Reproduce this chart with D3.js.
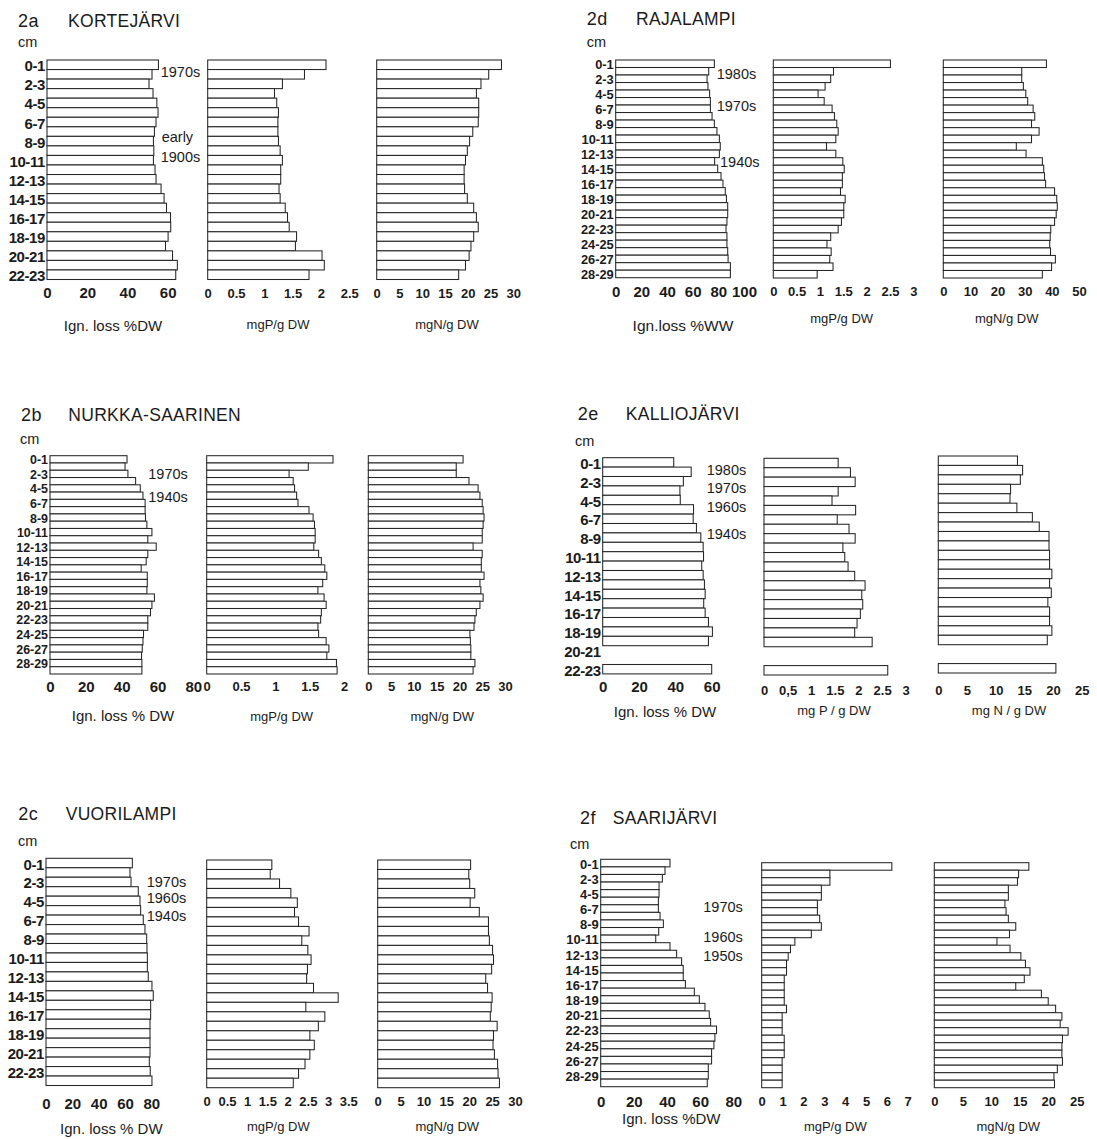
<!DOCTYPE html>
<html>
<head>
<meta charset="utf-8">
<script src="https://cdn.jsdelivr.net/npm/d3@7"></script>
<style>
  html, body { margin: 0; padding: 0; background: #fff; }
  svg { display: block; }
</style>
</head>
<body>
<svg id="fig" width="1097" height="1139"></svg>
<script>
// 1-cm sediment slices, surface downwards
const depthSlices = ["0-1","1-2","2-3","3-4","4-5","5-6","6-7","7-8","8-9","9-10",
  "10-11","11-12","12-13","13-14","14-15","15-16","16-17","17-18","18-19","19-20",
  "20-21","21-22","22-23","23-24","24-25","25-26","26-27","27-28","28-29","29-30"];

// 2a Kortejärvi
const kortejarviIgn = [55.4,52.2,50.7,52.7,54.6,55.2,54.2,53.4,52.9,53.1,52.9,53.7,54.2,56.7,58.2,59.4,61.4,61.5,60.2,58.9,62.4,64.8,64.0];
const kortejarviP   = [2.09,1.71,1.32,1.18,1.22,1.25,1.24,1.24,1.25,1.28,1.32,1.29,1.29,1.26,1.28,1.37,1.41,1.44,1.57,1.55,2.02,2.06,1.79];
const kortejarviN   = [27.4,24.6,22.9,21.9,22.4,22.4,22.3,21.1,20.4,19.9,19.5,19.2,19.2,19.3,19.9,21.3,21.9,22.3,21.3,20.7,20.3,19.5,18.0];

// 2d Rajalampi
const rajalampiIgn = [76.9,72.5,71.2,71.9,73.2,73.8,73.8,75.1,76.9,78.9,80.8,81.5,80.8,77.1,79.5,82.1,83.6,85.4,86.3,87.3,87.3,86.7,86.0,86.7,86.7,87.3,87.6,89.4,89.4];
const rajalampiP   = [2.51,1.29,1.23,1.11,0.96,1.09,1.26,1.31,1.36,1.39,1.34,1.14,1.34,1.49,1.52,1.48,1.48,1.44,1.54,1.51,1.51,1.46,1.39,1.23,1.15,1.24,1.21,1.28,0.94];
const rajalampiN   = [38.0,28.9,28.9,29.5,30.4,31.1,33.1,33.7,32.5,35.3,32.5,26.9,30.5,36.5,37.0,37.3,37.7,41.0,41.8,42.0,41.6,41.0,39.6,39.4,39.2,39.5,41.3,39.9,36.5];

// 2b Nurkka-Saarinen
const nurkkaIgn = [43.0,41.9,43.5,47.8,50.4,51.9,53.1,53.1,53.3,54.1,56.9,54.6,59.3,54.6,53.7,50.9,54.3,54.3,54.1,58.3,56.9,56.1,54.6,54.6,52.2,51.9,51.5,51.1,51.3,51.3];
const nurkkaP   = [1.84,1.48,1.20,1.26,1.28,1.31,1.33,1.49,1.55,1.57,1.58,1.58,1.56,1.63,1.67,1.72,1.75,1.69,1.62,1.71,1.74,1.67,1.66,1.62,1.63,1.74,1.78,1.75,1.89,1.90];
const nurkkaN   = [20.8,19.3,19.3,22.1,24.1,24.5,25.0,25.2,25.4,25.2,25.0,25.0,23.0,25.0,24.8,24.8,25.4,24.5,24.7,25.2,24.5,23.7,23.4,23.2,22.3,22.4,22.5,22.5,23.4,23.0];

// 2e Kalliojärvi (20-22 cm not analysed)
const kalliojarviIgn = [39.1,48.7,44.4,42.5,42.7,50.0,49.8,51.6,54.0,55.3,55.5,54.5,55.3,56.0,56.4,55.6,56.4,58.2,60.4,58.2,null,null,60.0];
const kalliojarviP   = [1.57,1.83,1.93,1.57,1.44,1.94,1.55,1.80,1.93,1.67,1.71,1.78,1.92,2.14,2.07,2.09,2.04,1.97,1.92,2.29,null,null,2.62];
const kalliojarviN   = [13.8,14.7,14.3,12.6,12.5,13.7,16.4,17.6,19.3,19.3,19.4,19.4,19.8,19.4,19.7,19.1,19.4,19.4,19.8,19.0,null,null,20.5];

// 2c Vuorilampi
const vuorilampiIgn = [65.6,63.8,64.6,70.1,71.4,71.9,73.9,75.2,76.5,76.7,77.0,77.0,77.7,80.5,81.5,79.5,79.5,79.0,79.0,79.0,79.0,78.5,79.2,80.5];
const vuorilampiP   = [1.61,1.57,1.80,2.08,2.24,2.17,2.27,2.53,2.35,2.50,2.58,2.49,2.47,2.64,3.25,2.45,2.92,2.76,2.55,2.66,2.55,2.43,2.27,2.14];
const vuorilampiN   = [20.3,19.9,20.1,21.2,20.2,22.2,24.2,24.2,24.4,25.1,25.3,24.9,23.6,24.0,25.0,24.8,24.6,26.1,25.3,25.2,25.5,26.2,26.3,26.6];

// 2f Saarijärvi
const saarijarviIgn = [41.8,38.8,37.2,35.2,35.2,34.8,34.8,35.8,37.8,35.0,33.2,41.8,45.8,48.8,49.8,49.8,51.1,56.5,59.5,62.9,65.5,66.3,69.9,68.9,68.3,66.9,66.9,64.9,64.9,64.3];
const saarijarviP   = [6.24,3.27,3.27,2.86,2.86,2.67,2.67,2.78,2.86,2.38,1.59,1.38,1.27,1.19,1.19,1.08,1.08,1.08,1.08,1.19,0.98,0.98,0.98,1.08,1.08,1.08,0.98,0.98,0.98,0.98];
const saarijarviN   = [16.6,14.8,14.6,13.0,13.0,12.4,12.6,13.0,14.3,13.2,11.0,13.3,15.2,16.0,16.8,15.8,14.3,18.8,20.0,21.3,22.4,22.1,23.5,22.5,22.4,22.4,22.5,21.6,21.0,21.1];

// tick values
const ticksIgn60  = [0,20,40,60];
const ticksIgn80  = [0,20,40,60,80];
const ticksIgn100 = [0,20,40,60,80,100];
const ticksP2   = [0,0.5,1,1.5,2];
const ticksP25  = [0,0.5,1,1.5,2,2.5];
const ticksP3   = [0,0.5,1,1.5,2,2.5,3];
const ticksP35  = [0,0.5,1,1.5,2,2.5,3,3.5];
const ticksP7   = [0,1,2,3,4,5,6,7];
const ticksN25  = [0,5,10,15,20,25];
const ticksN30  = [0,5,10,15,20,25,30];
const ticksN50  = [0,10,20,30,40,50];
const ticksP3comma = ["0","0,5","1","1.5","2","2.5","3"];

const FONT = '"Liberation Sans", Arial, Helvetica, sans-serif';
const INK = "#1b1b1b";

const panels = [
  { num: "2a", name: "KORTEJÄRVI", numX: 18, nameX: 68, titleY: 26.5, cmX: 18, cmY: 47,
    rows: 23,
    decades: [["1970s",160.7,71.7],["early",161.7,137],["1900s",160.7,157]],
    charts: [
      { values: kortejarviIgn, x0: 47, x1: 167.7, domain: [0,60], ticks: ticksIgn60, top: 60, bottom: 279.5, tickY: 293, tickSize: 15,
        title: "Ign. loss %DW", tX: 113, tY: 325, tSize: 15, depthLabels: true },
      { values: kortejarviP, x0: 207.7, x1: 349.2, domain: [0,2.5], ticks: ticksP25, top: 60, bottom: 279.5, tickY: 293, tickSize: 13,
        title: "mgP/g DW", tX: 278, tY: 324, tSize: 13 },
      { values: kortejarviN, x0: 376.7, x1: 513.3, domain: [0,30], ticks: ticksN30, top: 60, bottom: 279.5, tickY: 293, tickSize: 13,
        title: "mgN/g DW", tX: 447, tY: 324, tSize: 13 }
    ] },
  { num: "2d", name: "RAJALAMPI", numX: 586.7, nameX: 636, titleY: 25, cmX: 586.7, cmY: 47,
    rows: 29,
    decades: [["1980s",716.7,74],["1970s",716.7,106],["1940s",720,162]],
    charts: [
      { values: rajalampiIgn, x0: 615.7, x1: 744, domain: [0,100], ticks: ticksIgn100, top: 60, bottom: 277.7, tickY: 292, tickSize: 15,
        title: "Ign.loss %WW", tX: 683, tY: 325, tSize: 15.5, depthLabels: true },
      { values: rajalampiP, x0: 773.3, x1: 913.3, domain: [0,3], ticks: ticksP3, top: 60, bottom: 278, tickY: 291.7, tickSize: 13,
        title: "mgP/g DW", tX: 841.7, tY: 318, tSize: 13 },
      { values: rajalampiN, x0: 943.3, x1: 1079, domain: [0,50], ticks: ticksN50, top: 60, bottom: 278, tickY: 291.7, tickSize: 13,
        title: "mgN/g DW", tX: 1006.7, tY: 318, tSize: 13 }
    ] },
  { num: "2b", name: "NURKKA-SAARINEN", numX: 21, nameX: 68.3, titleY: 421, cmX: 20, cmY: 443.5,
    rows: 30,
    decades: [["1970s",148.3,474],["1940s",148.3,497.3]],
    charts: [
      { values: nurkkaIgn, x0: 50, x1: 193.3, domain: [0,80], ticks: ticksIgn80, top: 455.7, bottom: 674, tickY: 686.7, tickSize: 15,
        title: "Ign. loss % DW", tX: 123, tY: 715, tSize: 15, depthLabels: true },
      { values: nurkkaP, x0: 206.7, x1: 344, domain: [0,2], ticks: ticksP2, top: 455.7, bottom: 674, tickY: 686.7, tickSize: 13,
        title: "mgP/g DW", tX: 281.7, tY: 716.7, tSize: 13 },
      { values: nurkkaN, x0: 368.3, x1: 505, domain: [0,30], ticks: ticksN30, top: 455.7, bottom: 674, tickY: 686.7, tickSize: 13,
        title: "mgN/g DW", tX: 442.3, tY: 716.7, tSize: 13 }
    ] },
  { num: "2e", name: "KALLIOJÄRVI", numX: 577.7, nameX: 625.7, titleY: 419.5, cmX: 575, cmY: 446,
    rows: 23,
    decades: [["1980s",706.7,470],["1970s",706.7,488.3],["1960s",706.7,506.7],["1940s",706.7,534]],
    charts: [
      { values: kalliojarviIgn, x0: 602.7, x1: 711.7, domain: [0,60], ticks: ticksIgn60, top: 457.7, bottom: 673.9, tickY: 686.7, tickSize: 15,
        title: "Ign. loss % DW", tX: 665, tY: 711.7, tSize: 15, depthLabels: true },
      { values: kalliojarviP, x0: 764, x1: 905.7, domain: [0,3], ticks: ticksP3, tickText: ticksP3comma, top: 458.3, bottom: 675, tickY: 690, tickSize: 13,
        title: "mg P / g DW", tX: 834, tY: 710.5, tSize: 13 },
      { values: kalliojarviN, x0: 938.3, x1: 1081.7, domain: [0,25], ticks: ticksN25, top: 456, bottom: 673, tickY: 690, tickSize: 13,
        title: "mg N / g DW", tX: 1009, tY: 710.5, tSize: 13 }
    ] },
  { num: "2c", name: "VUORILAMPI", numX: 18.3, nameX: 65.7, titleY: 820, cmX: 18, cmY: 846,
    rows: 24,
    decades: [["1970s",146.7,881.7],["1960s",146.7,898.3],["1940s",146.7,916]],
    charts: [
      { values: vuorilampiIgn, x0: 46, x1: 151.3, domain: [0,80], ticks: ticksIgn80, top: 858.3, bottom: 1085.5, tickY: 1103.3, tickSize: 15,
        title: "Ign. loss % DW", tX: 111.3, tY: 1128.3, tSize: 15, depthLabels: true },
      { values: vuorilampiP, x0: 206.7, x1: 348.3, domain: [0,3.5], ticks: ticksP35, top: 860, bottom: 1087.7, tickY: 1101.7, tickSize: 13,
        title: "mgP/g DW", tX: 278.3, tY: 1126.7, tSize: 13 },
      { values: vuorilampiN, x0: 377.7, x1: 515, domain: [0,30], ticks: ticksN30, top: 860, bottom: 1087.7, tickY: 1101.7, tickSize: 13,
        title: "mgN/g DW", tX: 447.3, tY: 1126.7, tSize: 13 }
    ] },
  { num: "2f", name: "SAARIJÄRVI", numX: 580, nameX: 612.7, titleY: 823.5, cmX: 570, cmY: 849,
    rows: 30,
    decades: [["1970s",703.3,907.3],["1960s",703.3,936.7],["1950s",703.3,955.7]],
    charts: [
      { values: saarijarviIgn, x0: 600.7, x1: 733.3, domain: [0,80], ticks: ticksIgn80, top: 859.3, bottom: 1086.7, tickY: 1101.7, tickSize: 15,
        title: "Ign. loss %DW", tX: 671.3, tY: 1118.3, tSize: 15, depthLabels: true },
      { values: saarijarviP, x0: 761.7, x1: 907.7, domain: [0,7], ticks: ticksP7, top: 862.7, bottom: 1087.7, tickY: 1101.7, tickSize: 13,
        title: "mgP/g DW", tX: 835.3, tY: 1126.7, tSize: 13 },
      { values: saarijarviN, x0: 934.3, x1: 1076.7, domain: [0,25], ticks: ticksN25, top: 862.7, bottom: 1087.7, tickY: 1101.7, tickSize: 13,
        title: "mgN/g DW", tX: 1008.3, tY: 1126.7, tSize: 13 }
    ] }
];

const svg = d3.select("#fig");

function label(g, text, x, y, size, opts = {}) {
  return g.append("text")
    .attr("x", x).attr("y", y)
    .attr("font-family", FONT)
    .attr("font-size", size)
    .attr("font-weight", opts.weight || "normal")
    .attr("text-anchor", opts.anchor || "start")
    .attr("dominant-baseline", opts.baseline || "auto")
    .attr("letter-spacing", opts.spacing || null)
    .attr("fill", INK)
    .text(text);
}

panels.forEach(p => {
  const g = svg.append("g").attr("class", "panel panel-" + p.num);
  const cats = depthSlices.slice(0, p.rows);

  // panel heading
  label(g, p.num, p.numX, p.titleY, 18, { spacing: "0.5px" });
  label(g, p.name, p.nameX, p.titleY, 17.5, { spacing: "0.3px" });
  label(g, "cm", p.cmX, p.cmY, 14.5);

  p.charts.forEach(c => {
    const y = d3.scaleBand().domain(cats).range([c.top, c.bottom]).padding(0);
    const x = d3.scaleLinear().domain(c.domain).range([c.x0, c.x1]);

    const rows = c.values.map((v, i) => ({ depth: cats[i], value: v })).filter(d => d.value != null);

    g.append("g").selectAll("rect")
      .data(rows)
      .join("rect")
        .attr("x", x(0))
        .attr("y", d => y(d.depth))
        .attr("width", d => x(d.value) - x(0))
        .attr("height", y.bandwidth())
        .attr("fill", "#fff")
        .attr("stroke", "#262626")
        .attr("stroke-width", 1.05);

    // value axis: numbers only
    const axis = d3.axisBottom(x)
      .tickValues(c.ticks)
      .tickSize(0)
      .tickPadding(0)
      .tickFormat((d, i) => c.tickText ? c.tickText[i] : d3.format("~g")(d));
    const ag = g.append("g").attr("transform", `translate(0,${c.tickY})`).call(axis);
    ag.select(".domain").remove();
    ag.selectAll("text")
      .attr("y", 0).attr("dy", "0.36em")
      .attr("font-family", FONT)
      .attr("font-size", c.tickSize)
      .attr("font-weight", "bold")
      .attr("fill", INK);

    label(g, c.title, c.tX, c.tY, c.tSize, { anchor: "middle", baseline: "central" });

    // depth labels every second slice; size limited by the label spacing
    if (c.depthLabels) {
      const labelSize = Math.min(15, (2 * y.bandwidth()) / 1.17);
      g.append("g").selectAll("text")
        .data(cats.filter((d, i) => i % 2 === 0))
        .join("text")
          .attr("x", c.x0 - 2)
          .attr("y", d => y(d) + y.bandwidth() / 2 + 1)
          .attr("text-anchor", "end")
          .attr("dominant-baseline", "central")
          .attr("font-family", FONT)
          .attr("font-size", labelSize)
          .attr("font-weight", "bold")
          .attr("letter-spacing", labelSize < 14 ? "0px" : "-0.4px")
          .attr("fill", INK)
          .text(d => d);
    }
  });

  // dating horizons
  p.decades.forEach(([t, x, yy]) => label(g, t, x, yy, 14.5, { baseline: "central" }));
});
</script>
</body>
</html>
